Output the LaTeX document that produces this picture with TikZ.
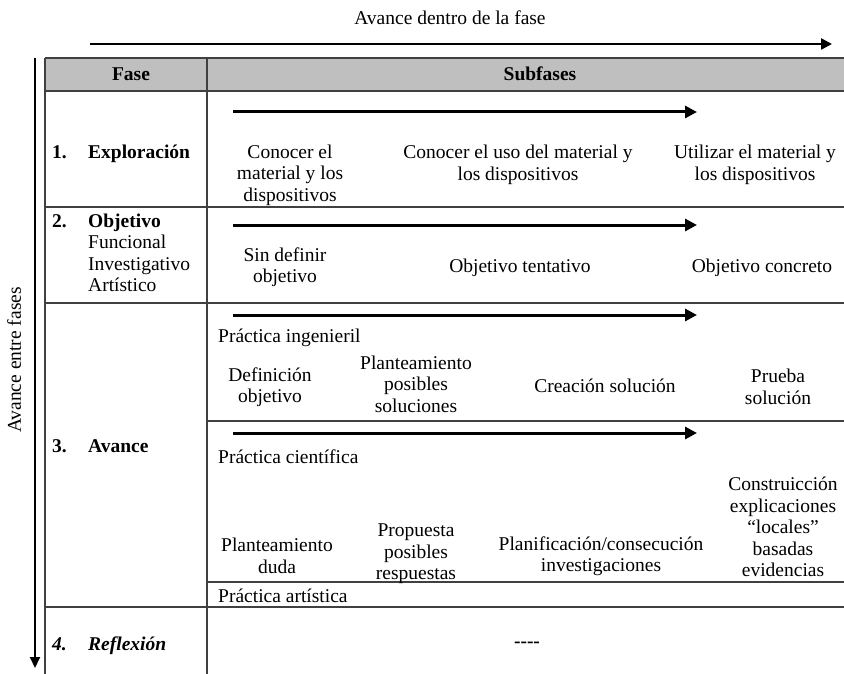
\documentclass[tikz,border=0pt]{standalone}
\usepackage{fontspec}
\setmainfont{Liberation Serif}
\usetikzlibrary{arrows.meta}

\begin{document}
\begin{tikzpicture}[x=1pt,y=-1pt,
  txt/.style={inner sep=0pt,align=center,font=\fontsize{19.5}{21.5}\selectfont},
  lbl/.style={txt,anchor=west,align=left},
  fasename/.style={txt,anchor=base west,font=\fontsize{19.5}{21.5}\selectfont\bfseries},
  grid/.style={draw=black!75,line width=1.2pt},
  adv/.style={line width=3pt,-{Triangle[length=12pt,width=12pt]}}]
\useasboundingbox (0,0) rectangle (844,674);
\fill[black!25] (45,58) rectangle (844,91);
\foreach \y in {58,91,207,303,607} \draw[grid] (45,\y) -- (844,\y);
\foreach \y in {421,582} \draw[grid] (207,\y) -- (844,\y);
\foreach \x in {45,207} \draw[grid] (\x,58) -- (\x,674);
\node[txt] (top) at (450,18) {Avance dentro de la fase};
\coordinate (h0) at (90,44);
\coordinate (h1) at (832,44);
\draw[line width=2.5pt,-{Triangle[length=11pt,width=11pt]}] (h0) -- (h1);
\node[txt,rotate=90] (side) at (14,360) {Avance entre fases};
\coordinate (v0) at (35,58);
\coordinate (v1) at (35,668);
\draw[line width=2pt,-{Triangle[length=11pt,width=10pt]}] (v0) -- (v1);
\foreach \y/\n in {112/a,225/b,315/c,433/d} {
  \coordinate (\n0) at (233,\y);
  \coordinate (\n1) at (697,\y);
  \draw[adv] (\n0) -- (\n1);
}
\node[txt,font=\fontsize{19.5}{21.5}\selectfont\bfseries] (fase) at (131,74) {Fase};
\node[txt,font=\fontsize{19.5}{21.5}\selectfont\bfseries] (subf) at (540,74) {Subfases};
\node[fasename] (n1) at (52,159) {1.};
\node[fasename] (f1) at (88,159) {Exploración};
\node[fasename] (n2) at (52,227) {2.};
\node[lbl] (f2) at (88,253) {\textbf{Objetivo}\\Funcional\\Investigativo\\Artístico};
\node[fasename] (n3) at (52,452) {3.};
\node[fasename] (f3) at (88,452) {Avance};
\node[fasename,font=\fontsize{19.5}{21.5}\selectfont\bfseries\itshape] (n4) at (52,650) {4.};
\node[fasename,font=\fontsize{19.5}{21.5}\selectfont\bfseries\itshape] (f4) at (88,650) {Reflexión};
\node[txt] (e1) at (290,175) {Conocer el\\material y los\\dispositivos};
\node[txt] (e2) at (518,165) {Conocer el uso del material y\\los dispositivos};
\node[txt] (e3) at (755,165) {Utilizar el material y\\los dispositivos};
\node[txt] (o1) at (285,267) {Sin definir\\objetivo};
\node[txt] (o2) at (520,268) {Objetivo tentativo};
\node[txt] (o3) at (762,268) {Objetivo concreto};
\node[lbl] (pi) at (218,338) {Práctica ingenieril};
\node[txt] (i1) at (270,387) {Definición\\objetivo};
\node[txt] (i2) at (416,384) {Planteamiento\\posibles\\soluciones};
\node[txt] (i3) at (605,386) {Creación solución};
\node[txt] (i4) at (778,387) {Prueba\\solución};
\node[lbl] (pc) at (218,457) {Práctica científica};
\node[txt] (s1) at (277,556) {Planteamiento\\duda};
\node[txt] (s2) at (416,554) {Propuesta\\posibles\\respuestas};
\node[txt] (s3) at (601,556) {Planificación/consecución\\investigaciones};
\node[txt] (s4) at (783,527) {Construicción\\explicaciones\\“locales”\\basadas\\evidencias};
\node[lbl] (pa) at (218,596) {Práctica artística};
\node[txt,font=\fontsize{19.5}{21.5}\selectfont\bfseries] (r1) at (527,645) {-{}-{}-{}-};
\end{tikzpicture}
\end{document}
